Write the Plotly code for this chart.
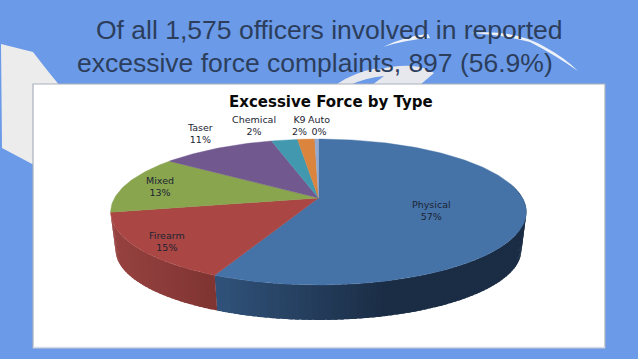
import math
import plotly.graph_objects as go

# ---- data ----
categories = ["Physical", "Firearm", "Mixed", "Taser", "Chemical", "K9", "Auto"]
values = [56.9, 15.0, 13.0, 10.7, 2.45, 1.6, 0.35]
top_colors = ["#4572a7", "#aa4643", "#89a54e", "#71588f", "#4198af", "#db843d", "#93a9cf"]
title_lines = ["Of all 1,575 officers involved in reported",
               "excessive force complaints, 897 (56.9%)"]
chart_title = "Excessive Force by Type"

# ---- layout constants (pixel-space axes) ----
W, H = 638, 359
BG = "#6a9ae8"
CX, APEX_Y = 318.5, 198.0
P, A, C = 204.0, -32.3, 0.1918      # perspective of the pie plane
ELL_Y, BOT_Y, KX, KY = 212.0, 250.0, 0.976, 0.959

label_pos = {"Physical": (431, 210), "Firearm": (167, 241), "Mixed": (160, 186),
             "Taser": (200, 133), "Chemical": (254, 125), "K9": (299, 125), "Auto": (319, 125)}


def top(deg):
    t = math.radians(deg)
    u, v = math.sin(t), math.cos(t)
    d = 1 + C * v
    return CX + P * u / d, (A * v + APEX_Y) / d


def bottom(deg):
    x, y = top(deg)
    return CX + (x - CX) * KX, BOT_Y + (y - ELL_Y) * KY


def mix(c1, c2, t):
    t = max(0.0, min(1.0, t))
    a = [int(c1[i:i + 2], 16) for i in (1, 3, 5)]
    b = [int(c2[i:i + 2], 16) for i in (1, 3, 5)]
    return "#%02x%02x%02x" % tuple(round(p + (q - p) * t) for p, q in zip(a, b))


def poly(xs, ys, color, lw=0.6):
    return go.Scatter(x=xs, y=ys, mode="lines", fill="toself", fillcolor=color,
                      line=dict(color=color, width=lw), hoverinfo="skip", showlegend=False)


fig = go.Figure()

# slice boundaries in degrees, clockwise from the top
edges = [0.0]
for val in values:
    edges.append(edges[-1] + val / sum(values) * 360)

# outer wall, drawn as thin strips so that shading runs along the rim
wall_end = 262.0
for i in range(2):
    a0, a1 = edges[i], min(edges[i + 1], wall_end)
    a = max(a0, 78.0)
    while a < a1:
        b = min(a + 1.5, a1)
        e = min(b + 1.0, a1)
        n = [a + (e - a) * k / 3 for k in range(4)]
        t = [top(q) for q in n]
        s = [bottom(q) for q in reversed(n)]
        mx = (top(a)[0] + top(b)[0]) / 2
        if i == 0:
            col = mix("#30527a", "#1b2d45", (216 - mx) / -170)
        else:
            col = mix("#7f3432", "#964240", (216 - mx) / 104)
        fig.add_trace(poly([p[0] for p in t + s] + [t[0][0]], [p[1] for p in t + s] + [t[0][1]], col, 0))
        a = b

# top face
for i, cat in enumerate(categories):
    a0, a1 = edges[i], edges[i + 1]
    steps = max(2, int((a1 - a0) / 1.0))
    arc = [top(a0 + (a1 - a0) * k / steps) for k in range(steps + 1)]
    xs = [CX] + [p[0] for p in arc] + [CX]
    ys = [APEX_Y] + [p[1] for p in arc] + [APEX_Y]
    fig.add_trace(poly(xs, ys, top_colors[i], 0.4))

# ---- slide decoration ----
shapes = [
    dict(type="path", path="M1,44 L33,52 L47,70 L60,86 L60,100 L34,100 L34,165 L2,148 Z",
         fillcolor="#ececec", line_width=0, layer="below"),
    dict(type="path", path="M383,47 Q405,36 428,34 L430,38 Q405,40 383,47 Z",
         fillcolor="#eef1f7", line_width=0, layer="below"),
    dict(type="path", path="M470,33 Q515,29 545,47 Q565,58 578,71 Q555,55 530,42 Q505,35 470,33 Z",
         fillcolor="#eef1f7", line_width=0, layer="below"),
    dict(type="path", path="M337,84 Q355,72 378,68 L378,70 Q395,65 412,66 Q426,67 434,73 L420,85 L372,85 L384,76 Q365,78 350,85 Z",
         fillcolor="#e6e8ee", line_width=0, layer="below"),
    dict(type="rect", x0=33, x1=605, y0=84, y1=348, fillcolor="#ffffff",
         line=dict(color="#a9b0bc", width=1.2), layer="below"),
    dict(type="line", x0=33, x1=605, y0=347.5, y1=347.5, line=dict(color="#d6dceb", width=1.5), layer="below"),
]

annotations = []
for text, x, y in zip(title_lines, (94, 75), (30, 62.5)):
    annotations.append(dict(x=x, y=y, text=text, xanchor="left", yanchor="middle", showarrow=False,
                            font=dict(family="Liberation Sans", size=26.5, color="#2c3e5c")))
annotations.append(dict(x=331, y=102, text="<b>%s</b>" % chart_title, showarrow=False,
                        font=dict(family="DejaVu Sans", size=15, color="#0a0a0a")))
total = sum(values)
for cat, val in zip(categories, values):
    lx, ly = label_pos[cat]
    annotations.append(dict(x=lx, y=ly, text="%s<br>%d%%" % (cat, round(val / total * 100)),
                            showarrow=False, align="center",
                            font=dict(family="DejaVu Sans", size=9.5, color="#1c2433")))

fig.update_layout(
    width=W, height=H, margin=dict(l=0, r=0, t=0, b=0), autosize=False,
    paper_bgcolor=BG, plot_bgcolor=BG, showlegend=False,
    xaxis=dict(range=[0, W], visible=False, fixedrange=True),
    yaxis=dict(range=[H, 0], visible=False, fixedrange=True),
    shapes=shapes, annotations=annotations,
)
fig.write_html("out.html", config={"displayModeBar": False},
               post_script="document.body.style.margin='0';document.documentElement.style.overflow='hidden';document.body.style.background='%s';" % BG)
